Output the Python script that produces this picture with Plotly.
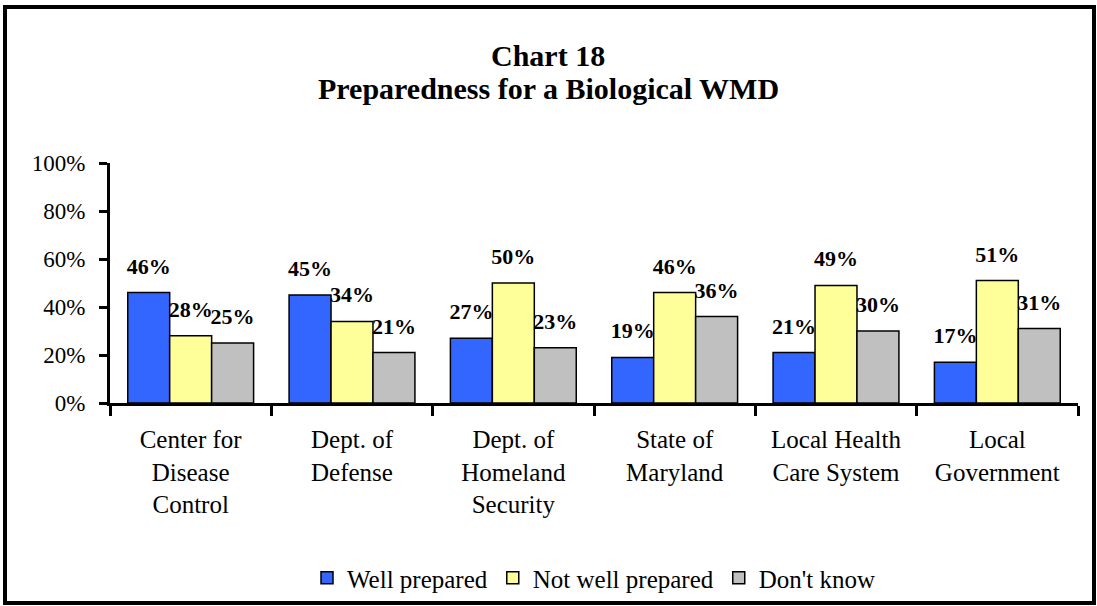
import plotly.graph_objects as go

categories = ["Center for<br>Disease<br>Control", "Dept. of<br>Defense", "Dept. of<br>Homeland<br>Security",
              "State of<br>Maryland", "Local Health<br>Care System", "Local<br>Government"]
series_names = ["Well prepared", "Not well prepared", "Don't know"]
well_prepared = [0.46, 0.45, 0.27, 0.19, 0.21, 0.17]
not_well_prepared = [0.28, 0.34, 0.50, 0.46, 0.49, 0.51]
dont_know = [0.25, 0.21, 0.23, 0.36, 0.30, 0.31]
colors = ["#3366FF", "#FFFF99", "#C0C0C0"]
y_ticks = [0, 0.2, 0.4, 0.6, 0.8, 1.0]
y_tick_labels = ["0%", "20%", "40%", "60%", "80%", "100%"]
title_lines = ["Chart 18", "Preparedness for a Biological WMD"]

W, H = 1097, 606
L, R, T, B = 110, 19, 163, 203
pw, ph = W - L - R, H - T - B
GAP = 0.22

FONT = "Liberation Serif, Times New Roman, serif"

fig = go.Figure()
series = [well_prepared, not_well_prepared, dont_know]
for name, vals, col in zip(series_names, series, colors):
    fig.add_trace(go.Bar(
        name=name, x=categories, y=vals,
        marker=dict(color=col, line=dict(color="black", width=1.5)),
        hoverinfo="skip",
    ))
# data labels, grouped like the bars
for name, vals in zip(series_names, series):
    fig.add_trace(go.Scatter(
        name=name + " labels", x=categories, y=vals, mode="markers+text",
        orientation="v",
        text=[f"{round(v*100)}%" for v in vals],
        textposition="top center",
        marker=dict(size=20, opacity=0, color="white"),
        textfont=dict(family=FONT, size=22, color="black", weight="bold"),
        cliponaxis=False, showlegend=False, hoverinfo="skip",
    ))

def px_x(p):
    return (p - L) / pw
def px_y(p):
    return (H - B - p) / ph

# outer frame
fig.add_shape(type="rect", xref="paper", yref="paper",
              x0=px_x(5), x1=px_x(1094), y0=px_y(603), y1=px_y(7),
              line=dict(color="black", width=4), fillcolor="rgba(0,0,0,0)", layer="below")

# title lines
for line, ypx in zip(title_lines, [55, 88]):
    fig.add_annotation(text=f"<b>{line}</b>", xref="paper", yref="paper",
                       x=px_x(548), y=px_y(ypx), xanchor="center", yanchor="middle",
                       showarrow=False, font=dict(family=FONT, size=30, color="black"))

fig.update_layout(
    width=W, height=H,
    margin=dict(l=L, r=R, t=T, b=B, autoexpand=False),
    paper_bgcolor="white", plot_bgcolor="white",
    font=dict(family=FONT, color="black"),
    barmode="group", bargap=GAP, bargroupgap=0,
    scattermode="group", scattergap=GAP,
    showlegend=True,
    legend=dict(orientation="h", xref="paper", yref="paper",
                x=0.5, xanchor="center", y=px_y(578), yanchor="middle",
                font=dict(family=FONT, size=25, color="black"),
                itemwidth=30, traceorder="normal"),
    xaxis=dict(showline=True, linecolor="black", linewidth=3, automargin=False,
               ticks="outside", tickson="boundaries", ticklen=10, tickwidth=3, tickcolor="black",
               tickfont=dict(family=FONT, size=25, color="black"),
               ticklabelstandoff=12, showgrid=False, zeroline=False),
    yaxis=dict(range=[0, 1], showline=True, linecolor="black", linewidth=3, automargin=False,
               tickvals=y_ticks, ticktext=y_tick_labels,
               ticks="outside", ticklen=8, tickwidth=3, tickcolor="black",
               tickfont=dict(family=FONT, size=23, color="black"),
               ticklabelstandoff=9, showgrid=False, zeroline=False),
)

fig.write_html("out.html", config={"displayModeBar": False},
               post_script="document.body.style.margin='0';document.body.style.overflow='hidden';")
